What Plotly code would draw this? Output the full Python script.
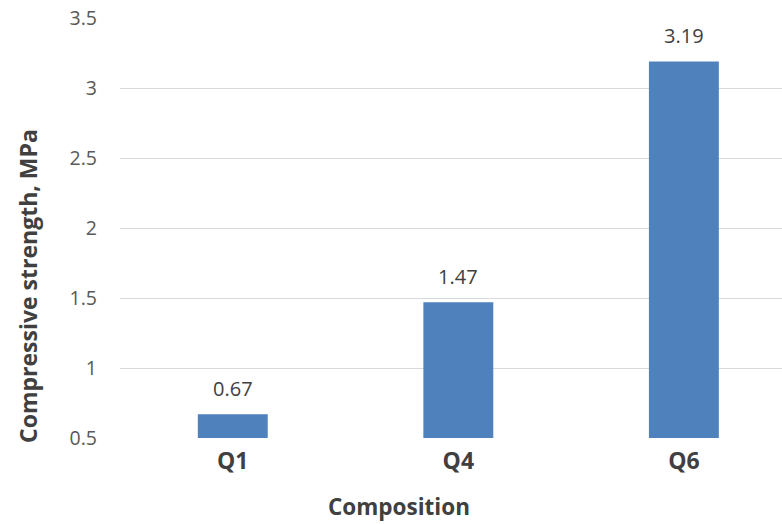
import plotly.graph_objects as go

# Compressive strength per composition
compositions = ["Q1", "Q4", "Q6"]
strength_mpa = [0.67, 1.47, 3.19]
value_labels = ["0.67", "1.47", "3.19"]

y_ticks = [0.5, 1, 1.5, 2, 2.5, 3, 3.5]
y_tick_text = ["0.5", "1", "1.5", "2", "2.5", "3", "3.5"]

FONT = "'Open Sans', sans-serif"
W, H = 782, 524
M_L, M_R, M_T, M_B = 120, 0, 18, 86
PW, PH = W - M_L - M_R, H - M_T - M_B

fig = go.Figure(
    go.Bar(
        x=compositions,
        y=strength_mpa,
        marker=dict(color="#4F81BD", line=dict(width=0)),
        width=0.31,
    )
)

# value labels sit a little above each bar
for cat, val, lab in zip(compositions, strength_mpa, value_labels):
    fig.add_annotation(
        x=cat, y=val, text=lab, showarrow=False,
        yanchor="bottom", yshift=10,
        font=dict(family=FONT, size=20, color="#404040"),
    )

# axis titles placed as paper annotations
fig.add_annotation(
    xref="paper", yref="paper",
    x=(399 - M_L) / PW, y=-(506 - (M_T + PH)) / PH,
    text="<b>Composition</b>", showarrow=False,
    xanchor="center", yanchor="middle",
    borderpad=0,
    font=dict(family=FONT, size=22.5, color="#404040"),
)
fig.add_annotation(
    xref="paper", yref="paper",
    x=(28 - M_L) / PW, y=((M_T + PH) - 286) / PH,
    text="<b>Compressive strength, MPa</b>", showarrow=False,
    textangle=-90, xanchor="center", yanchor="middle",
    font=dict(family=FONT, size=23, color="#404040"),
)

fig.update_layout(
    width=W,
    height=H,
    margin=dict(l=M_L, r=M_R, t=M_T, b=M_B),
    paper_bgcolor="white",
    plot_bgcolor="white",
    showlegend=False,
    font=dict(family=FONT),
)

fig.update_xaxes(
    range=[-0.5, 2.435],
    showgrid=False,
    showline=False,
    ticks="",
    tickfont=dict(family=FONT, size=23, color="#404040", weight="bold"),
    ticklabelstandoff=7,
)

fig.update_yaxes(
    range=[0.5, 3.5],
    tickvals=y_ticks,
    ticktext=y_tick_text,
    showgrid=True,
    gridcolor="#D9D9D9",
    gridwidth=1,
    zeroline=False,
    showline=False,
    ticks="",
    tickfont=dict(family=FONT, size=19.5, color="#595959"),
    ticklabelstandoff=22,
)

fig.write_html("out.html")
